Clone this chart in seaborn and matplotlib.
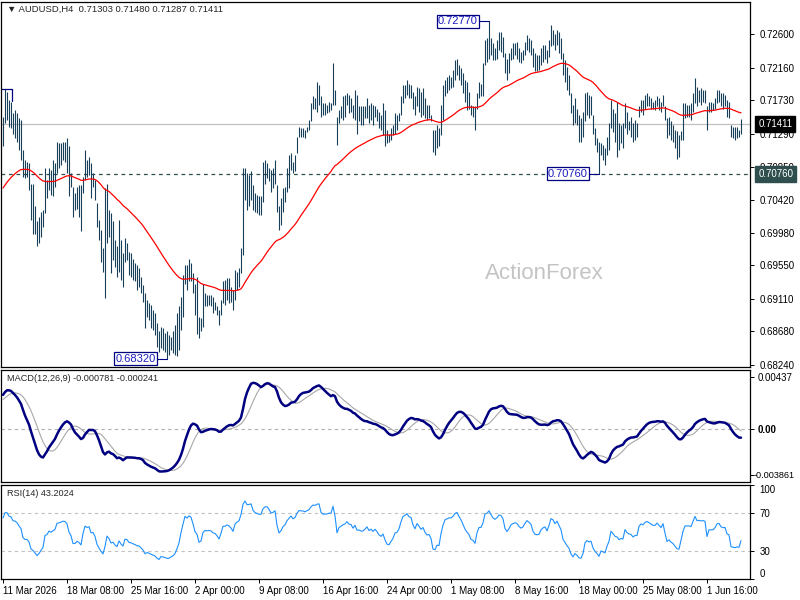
import numpy as np
import pandas as pd
import seaborn as sns
import matplotlib.pyplot as plt
import matplotlib.transforms as mtrans

sns.set_theme(style="white")
plt.rcParams['font.family'] = ['Liberation Sans', 'DejaVu Sans']

# ---- data (prices in pips, 0.0001) ----
title_main = "\u25bc AUDUSD,H4  0.71303 0.71480 0.71287 0.71411"
title_macd = "MACD(12,26,9) -0.000781 -0.000241"
title_rsi = "RSI(14) 43.2024"

high_pips = [
    7151, 7188, 7184, 7173, 7171, 7156, 7160, 7156, 7149, 7147,
    7107, 7094, 7092, 7090, 7063, 7063, 7033, 7013, 7019, 7026,
    7028, 7083, 7068, 7083, 7081, 7094, 7090, 7118, 7116, 7116,
    7118, 7118, 7123, 7112, 7077, 7059, 7050, 7059, 7061, 7061,
    7072, 7107, 7094, 7098, 7090, 7077, 7068, 7037, 7015, 7002,
    6978, 7057, 7063, 7028, 7024, 7013, 6989, 6980, 7015, 6989,
    6971, 6991, 6984, 6973, 6971, 6964, 6958, 6956, 6951, 6940,
    6929, 6918, 6909, 6905, 6903, 6896, 6892, 6879, 6868, 6874,
    6872, 6866, 6868, 6863, 6861, 6868, 6876, 6892, 6901, 6914,
    6942, 6956, 6956, 6964, 6958, 6945, 6931, 6940, 6887, 6885,
    6931, 6918, 6916, 6916, 6916, 6914, 6907, 6901, 6896, 6909,
    6934, 6936, 6938, 6938, 6927, 6923, 6949, 6947, 6951, 6978,
    7083, 7083, 7077, 7074, 7079, 7061, 7050, 7048, 7046, 7046,
    7092, 7094, 7090, 7083, 7081, 7083, 7094, 7061, 7033, 7044,
    7057, 7059, 7083, 7101, 7103, 7092, 7101, 7125, 7138, 7136,
    7136, 7134, 7138, 7147, 7169, 7178, 7176, 7197, 7193, 7178,
    7169, 7169, 7167, 7171, 7169, 7222, 7187, 7151, 7160, 7165,
    7178, 7180, 7182, 7180, 7176, 7167, 7187, 7180, 7165, 7165,
    7165, 7165, 7176, 7167, 7169, 7167, 7165, 7162, 7158, 7154,
    7169, 7160, 7134, 7129, 7136, 7140, 7156, 7154, 7156, 7178,
    7193, 7193, 7200, 7195, 7193, 7184, 7178, 7191, 7189, 7184,
    7189, 7176, 7167, 7167, 7154, 7134, 7134, 7140, 7136, 7167,
    7193, 7200, 7204, 7206, 7204, 7213, 7226, 7228, 7220, 7215,
    7209, 7200, 7197, 7184, 7167, 7165, 7165, 7182, 7197, 7195,
    7222, 7252, 7255, 7277, 7255, 7248, 7242, 7252, 7263, 7263,
    7257, 7235, 7228, 7235, 7242, 7248, 7248, 7250, 7242, 7237,
    7239, 7250, 7259, 7255, 7252, 7242, 7235, 7233, 7233, 7242,
    7246, 7246, 7239, 7252, 7272, 7266, 7261, 7266, 7263, 7255,
    7235, 7226, 7217, 7206, 7182, 7167, 7176, 7162, 7154, 7149,
    7158, 7182, 7184, 7180, 7178, 7154, 7136, 7123, 7118, 7116,
    7114, 7110, 7125, 7143, 7173, 7162, 7156, 7171, 7143, 7140,
    7143, 7169, 7158, 7145, 7151, 7143, 7147, 7143, 7165, 7173,
    7173, 7180, 7182, 7178, 7176, 7171, 7173, 7178, 7176, 7171,
    7180, 7165, 7149, 7151, 7145, 7140, 7134, 7132, 7127, 7132,
    7169, 7169, 7167, 7167, 7169, 7182, 7202, 7191, 7187, 7189,
    7187, 7187, 7165, 7171, 7171, 7169, 7176, 7187, 7187, 7182,
    7182, 7180, 7173, 7171, 7140, 7138, 7138, 7138, 7134, 7148,
]
low_pips = [
    7112, 7143, 7147, 7138, 7136, 7129, 7123, 7118, 7107, 7094,
    7072, 7070, 7072, 7055, 7015, 6997, 6997, 6980, 6984, 6993,
    7006, 7024, 7044, 7055, 7048, 7046, 7059, 7077, 7083, 7088,
    7094, 7092, 7077, 7046, 7059, 7019, 7028, 7030, 7019, 7000,
    7050, 7068, 7072, 7074, 7044, 7059, 7041, 7006, 6989, 6960,
    6947, 6912, 6984, 6993, 6945, 6962, 6953, 6940, 6947, 6936,
    6927, 6960, 6962, 6942, 6940, 6936, 6934, 6923, 6927, 6918,
    6907, 6872, 6887, 6883, 6872, 6870, 6863, 6848, 6841, 6846,
    6843, 6841, 6832, 6837, 6843, 6839, 6837, 6835, 6843, 6870,
    6887, 6931, 6923, 6934, 6934, 6918, 6890, 6865, 6859, 6868,
    6874, 6901, 6901, 6903, 6901, 6892, 6896, 6890, 6876, 6890,
    6905, 6903, 6909, 6905, 6907, 6896, 6909, 6923, 6927, 6945,
    6969, 7041, 7028, 7033, 7041, 7028, 7026, 7024, 7022, 7022,
    7039, 7063, 7070, 7066, 7052, 7057, 7063, 7026, 7002, 7008,
    7026, 7039, 7052, 7057, 7081, 7077, 7079, 7103, 7125, 7125,
    7125, 7123, 7131, 7134, 7145, 7162, 7162, 7158, 7167, 7151,
    7153, 7153, 7156, 7158, 7160, 7167, 7167, 7114, 7143, 7149,
    7147, 7151, 7167, 7156, 7158, 7149, 7147, 7129, 7145, 7140,
    7140, 7149, 7149, 7143, 7147, 7140, 7151, 7145, 7136, 7134,
    7127, 7112, 7116, 7118, 7121, 7127, 7129, 7134, 7145, 7154,
    7169, 7176, 7180, 7176, 7176, 7162, 7154, 7165, 7158, 7151,
    7154, 7149, 7147, 7149, 7145, 7105, 7101, 7110, 7112, 7127,
    7147, 7178, 7182, 7187, 7189, 7191, 7200, 7206, 7200, 7193,
    7182, 7171, 7160, 7162, 7154, 7151, 7134, 7162, 7176, 7178,
    7178, 7220, 7224, 7228, 7233, 7226, 7226, 7228, 7239, 7237,
    7230, 7209, 7200, 7209, 7226, 7228, 7233, 7228, 7224, 7222,
    7226, 7233, 7239, 7237, 7233, 7217, 7211, 7211, 7213, 7220,
    7224, 7228, 7222, 7230, 7244, 7246, 7239, 7246, 7235, 7228,
    7206, 7197, 7186, 7180, 7156, 7140, 7143, 7140, 7118, 7118,
    7125, 7145, 7154, 7149, 7154, 7129, 7114, 7105, 7076, 7101,
    7094, 7088, 7101, 7107, 7136, 7131, 7118, 7098, 7107, 7116,
    7110, 7136, 7129, 7134, 7125, 7118, 7121, 7125, 7151, 7158,
    7154, 7162, 7165, 7165, 7162, 7162, 7160, 7165, 7160, 7158,
    7165, 7147, 7123, 7127, 7121, 7118, 7110, 7096, 7098, 7121,
    7121, 7149, 7151, 7151, 7147, 7158, 7169, 7165, 7171, 7167,
    7171, 7169, 7134, 7158, 7158, 7160, 7162, 7169, 7171, 7165,
    7162, 7165, 7151, 7149, 7125, 7123, 7121, 7123, 7125, 7129,
]
# closes before the visible window, only used to warm up the indicators
pre_close_pips = [
    7035, 7040, 7032, 7028, 7038, 7045, 7040, 7034, 7030, 7025,
    7020, 7026, 7032, 7029, 7022, 7018, 7015, 7021, 7027, 7024,
    7018, 7012, 7010, 7016, 7022, 7020, 7014, 7008, 7005, 7011,
    7016, 7013, 7007, 7002, 7000, 7006, 7012, 7010, 7020, 7034,
    7024, 7045, 7060, 7044, 7070, 7085, 7066, 7095, 7108, 7088,
    7118, 7128, 7110, 7135, 7142, 7126,
]

price_ticks = [0.72600, 0.72160, 0.71730, 0.71290, 0.70850, 0.70420,
               0.69980, 0.69550, 0.69110, 0.68680, 0.68240]
macd_ticks = [0.00437, 0.0, -0.003861]
macd_tick_labels = ["0.00437", "0.00", "-0.003861"]
rsi_ticks = [100, 70, 30, 0]
date_labels = ["11 Mar 2026", "18 Mar 08:00", "25 Mar 16:00", "2 Apr 00:00",
               "9 Apr 08:00", "16 Apr 16:00", "24 Apr 00:00", "1 May 08:00",
               "8 May 16:00", "18 May 00:00", "25 May 08:00", "1 Jun 16:00"]
last_price = 0.71411
support_price = 0.70760
mark_bars = [243, 298, 82]
mark_prices = [0.72770, 0.70760, 0.68320]

# ---- indicators ----
df = pd.DataFrame({'bar': np.arange(len(high_pips)),
                   'high': np.array(high_pips) / 10000,
                   'low': np.array(low_pips) / 10000})
df['mid'] = (df['high'] + df['low']) / 2
n_pre = len(pre_close_pips)
full = pd.concat([pd.Series(pre_close_pips) / 10000, df['mid']], ignore_index=True)

ema55 = full.ewm(span=55, adjust=False).mean()
macd = full.ewm(span=12, adjust=False).mean() - full.ewm(span=26, adjust=False).mean()
signal = macd.rolling(9, min_periods=1).mean()
delta = full.diff().fillna(0)
gain = delta.clip(lower=0).ewm(alpha=1 / 14, adjust=False).mean()
loss = (-delta.clip(upper=0)).ewm(alpha=1 / 14, adjust=False).mean()
rsi = 100 - 100 / (1 + gain / loss)

df['ema'] = ema55.iloc[n_pre:].values
df['macd'] = macd.iloc[n_pre:].values
df['signal'] = signal.iloc[n_pre:].values
df['rsi'] = rsi.iloc[n_pre:].values

# ---- figure ----
W, H = 800, 600
fig = plt.figure(figsize=(8, 6), dpi=100)


def px_box(x0, y0, x1, y1):
    return [x0 / W, 1 - y1 / H, (x1 - x0) / W, (y1 - y0) / H]


ax = fig.add_axes(px_box(1, 2, 750, 367))
ax_m = fig.add_axes(px_box(1, 370, 750, 482))
ax_r = fig.add_axes(px_box(1, 485, 750, 579))

bar_col = '#173f5a'
fs = 7
fs_t = 6.8
xlim = (-1, 373.5)

# main panel
ax.vlines(df['bar'], df['low'], df['high'], color=bar_col, lw=0.8)
sns.lineplot(x='bar', y='ema', data=df, ax=ax, color='red', lw=0.9)
ax.axhline(last_price, color='#c0c0c0', lw=0.9, zorder=0)
ax.axhline(support_price, color='#2f4f4f', lw=0.9, ls=(0, (3, 3)), zorder=0)
ax.set_xlim(*xlim)
ax.set_ylim(0.68210, 0.73026)
ax.text(0.008, 0.992, title_main, transform=ax.transAxes, fontsize=fs_t, va='top')
ax.text(0.726, 0.2575, "ActionForex", transform=ax.transAxes, fontsize=16,
        color='#c4c4c4', ha='center', va='center')

for b, p in zip(mark_bars, mark_prices):
    ax.plot([b - 5, b], [p, p], color='#000080', lw=0.8)
    ax.text(b - 5.5, p, f"{p:.5f}", fontsize=8, color='#1c1cc0', ha='right', va='center',
            bbox=dict(boxstyle='square,pad=0.12', fc='white', ec='#000080', lw=0.9))
# partly hidden high marker at the left edge
h1 = high_pips[1] / 10000
ax.plot([-1, 4.5, 4.5], [h1, h1, h1 - 0.0016], color='#000080', lw=0.9)

# macd panel
sns.lineplot(x='bar', y='signal', data=df, ax=ax_m, color='#a8a8a8', lw=0.8)
sns.lineplot(x='bar', y='macd', data=df, ax=ax_m, color='#000080', lw=1.8)
ax_m.axhline(0, color='#b0b0b0', lw=0.8, ls=(0, (3, 3)), zorder=0)
ax_m.set_xlim(*xlim)
ax_m.set_ylim(-0.00446, 0.00496)
ax_m.text(0.008, 0.96, title_macd, transform=ax_m.transAxes, fontsize=6.6, va='top')

# rsi panel
sns.lineplot(x='bar', y='rsi', data=df, ax=ax_r, color='#1e90ff', lw=0.8)
for lvl in (70, 30):
    ax_r.axhline(lvl, color='#c0c0c0', lw=0.8, ls=(0, (3, 3)), zorder=0)
ax_r.set_xlim(*xlim)
ax_r.set_ylim(0, 100)
ax_r.text(0.008, 0.955, title_rsi, transform=ax_r.transAxes, fontsize=6.6, va='top')

# axes styling
for a in (ax, ax_m, ax_r):
    a.set_xlabel('')
    a.set_ylabel('')
    a.set_facecolor('white')
    for s in a.spines.values():
        s.set_color('black')
        s.set_linewidth(0.9)
    a.yaxis.tick_right()
    a.tick_params(axis='y', direction='out', length=3, width=0.7, labelsize=fs,
                  colors='black', pad=4, right=True)

ax.set_yticks(price_ticks)
ax.set_yticklabels([f"{v:.5f}" for v in price_ticks])
ax_m.set_yticks(macd_ticks)
ax_m.set_yticklabels(macd_tick_labels)
ml = ax_m.get_yticklabels()
ml[1].set_fontweight('bold')
ml[2].set_fontsize(6.6)
ml[2].set_x(0.995)
ax_m.tick_params(axis='y', pad=2.5)
ax_r.set_yticks(rsi_ticks)
ax_r.set_yticklabels([str(v) for v in rsi_ticks])
rl = ax_r.get_yticklabels()
rl[0].set_va('top')
rl[-1].set_va('bottom')

ax.set_xticks([])
ax_m.set_xticks([])
ax_r.set_xticks(np.arange(len(date_labels)) * 32)
ax_r.set_xticklabels(date_labels)
ax_r.tick_params(axis='x', direction='out', length=3, width=0.7, labelsize=fs,
                 colors='black', pad=2, bottom=True)
for t in ax_r.get_xticklabels():
    t.set_ha('left')

# right-axis price tags
tr = mtrans.blended_transform_factory(ax.transAxes, ax.transData)
ax.text(1.011, last_price, f"{last_price:.5f}", transform=tr, fontsize=fs, color='white',
        ha='left', va='center', zorder=5,
        bbox=dict(boxstyle='square,pad=0.3', fc='black', ec='black'))
ax.text(1.011, support_price, f"{support_price:.5f}", transform=tr, fontsize=fs, color='white',
        ha='left', va='center', zorder=5,
        bbox=dict(boxstyle='square,pad=0.3', fc='#2f4f4f', ec='#2f4f4f'))

fig.savefig('out.png', dpi=100)
